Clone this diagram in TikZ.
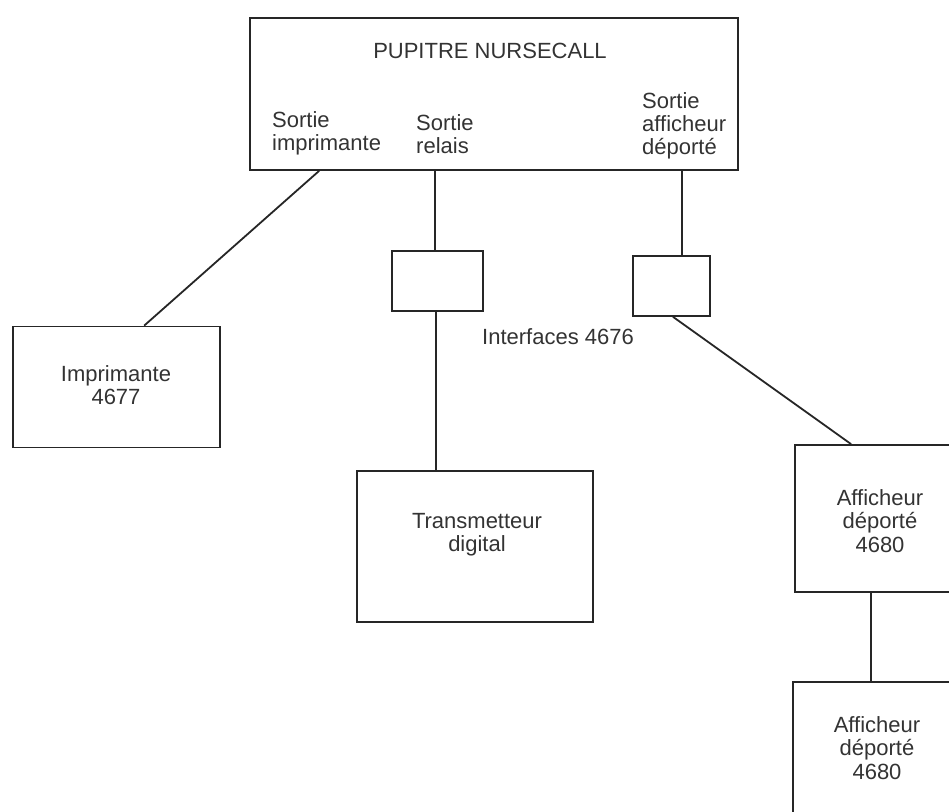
\documentclass[tikz,border=0pt]{standalone}
\usepackage{fontspec}
\setmainfont{Liberation Sans}
\begin{document}
\begin{tikzpicture}[x=1pt,y=-1pt,
  ink/.style={draw=black!85},
  box/.style={ink, line width=1.7pt, rectangle, inner sep=0pt},
  wire/.style={ink, line width=1.8pt},
  lbl/.style={inner sep=0pt, text=black!80, font=\fontsize{22}{23.2}\selectfont},
]
\useasboundingbox (0,0) rectangle (949,811);
\clip (0,0) rectangle (949,811);
% boxes
\node[box, minimum width=488pt, minimum height=152pt] (main) at (494,94) {};
\node[box, minimum width=207pt, minimum height=121pt] (imp) at (116.5,387) {};
\node[box, minimum width=91pt, minimum height=60pt] (if1) at (437.5,281) {};
\node[box, minimum width=77pt, minimum height=60pt] (if2) at (671.5,286) {};
\node[box, minimum width=236pt, minimum height=151pt] (trans) at (475,546.5) {};
\node[box, minimum width=165pt, minimum height=147pt] (aff1) at (877.5,518.5) {};
\node[box, minimum width=167pt, minimum height=148pt] (aff2) at (876.5,756) {};
% texts
\node[lbl] (title) at (490,51) {PUPITRE NURSECALL};
\node[lbl, anchor=north west, align=left] (sImp) at (272,111) {Sortie\\imprimante};
\node[lbl, anchor=north west, align=left] (sRel) at (416,114) {Sortie\\relais};
\node[lbl, anchor=north west, align=left] (sAff) at (642,92) {Sortie\\afficheur\\déporté};
\node[lbl, align=center] (tImp) at (116,385) {Imprimante\\4677};
\node[lbl, align=center] (tTrans) at (477,535) {Transmetteur\\digital};
\node[lbl, align=center] (tAff1) at (880,521) {Afficheur\\déporté\\4680};
\node[lbl, align=center] (tAff2) at (877,748) {Afficheur\\déporté\\4680};
\node[lbl] (tIf) at (558,337) {Interfaces 4676};
% connectors
\draw[wire] ([xshift=70pt]main.south west) -- ([xshift=132pt]imp.north west);
\draw[wire] ([xshift=-2.5pt]if1.north) -- ([xshift=-2.5pt]if1.north |- main.south);
\draw[wire] ([xshift=-1.5pt]if1.south) -- ([xshift=-1.5pt]if1.south |- trans.north);
\draw[wire] ([xshift=10.3pt]if2.north) -- ([xshift=10.3pt]if2.north |- main.south);
\draw[wire] ([xshift=1.5pt]if2.south) -- ([xshift=57pt]aff1.north west);
\draw[wire] ([xshift=77pt]aff1.south west) -- ([xshift=77pt]aff1.south west |- aff2.north);
\end{tikzpicture}
\end{document}
